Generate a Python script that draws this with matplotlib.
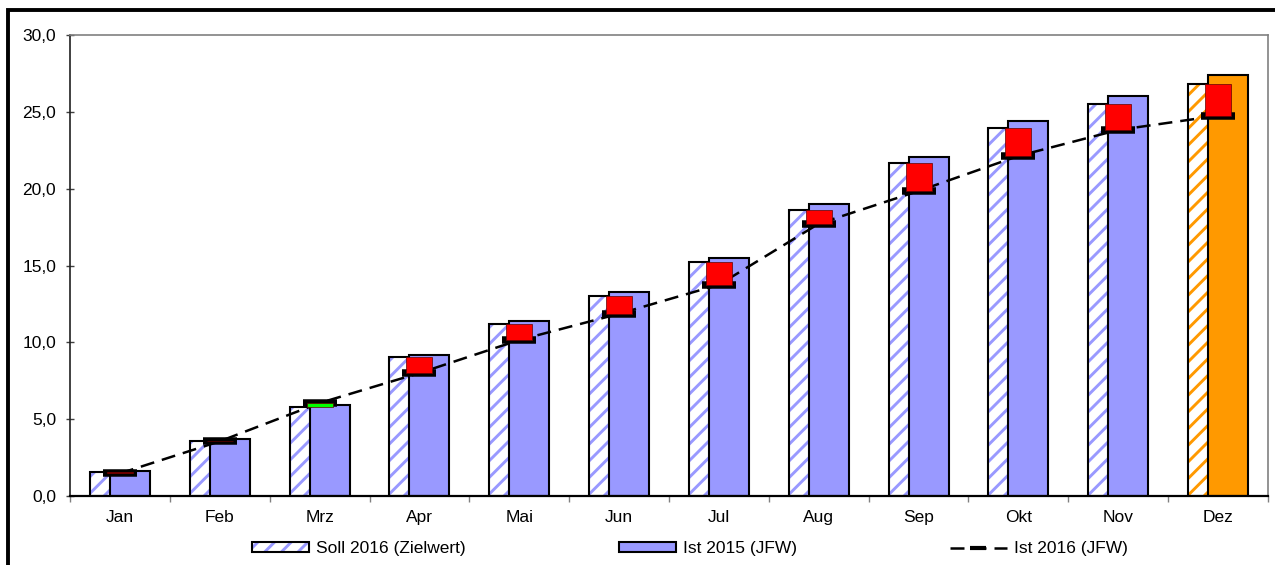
import matplotlib
matplotlib.use("Agg")
import matplotlib.pyplot as plt
from matplotlib.patches import Patch, Rectangle
from matplotlib.lines import Line2D
from matplotlib.ticker import FuncFormatter, FixedLocator
import numpy as np

months = ['Jan', 'Feb', 'Mrz', 'Apr', 'Mai', 'Jun', 'Jul', 'Aug', 'Sep', 'Okt', 'Nov', 'Dez']
soll_2016 = [1.55, 3.58, 5.78, 9.05, 11.19, 13.04, 15.25, 18.61, 21.65, 23.93, 25.51, 26.81]
ist_2015 = [1.60, 3.68, 5.92, 9.18, 11.41, 13.30, 15.51, 19.00, 22.08, 24.40, 26.03, 27.40]
ist_2016 = [1.47, 3.56, 6.05, 8.00, 10.15, 11.86, 13.75, 17.72, 19.85, 22.13, 23.82, 24.75]
legend_labels = ['Soll 2016 (Zielwert)', 'Ist 2015 (JFW)', 'Ist 2016 (JFW)']

plt.rcParams['font.family'] = ['Liberation Sans', 'DejaVu Sans']
plt.rcParams['hatch.linewidth'] = 2.1

BLUE = '#9999FF'
ORANGE = '#FF9900'

fig = plt.figure(figsize=(12.75, 5.65), dpi=100)
ax = fig.add_axes([70 / 1275, 1 - 496 / 565, 1198 / 1275, 461 / 565])

x = np.arange(len(months))
hatch_cols = [BLUE] * (len(months) - 1) + [ORANGE]
fill_cols = [BLUE] * (len(months) - 1) + [ORANGE]

# Soll 2016 hatched bars
for xi, v, c in zip(x, soll_2016, hatch_cols):
    ax.bar(xi - 0.1, v, width=0.4, facecolor='white', edgecolor=c, hatch='//',
           linewidth=0, zorder=2)
    ax.bar(xi - 0.1, v, width=0.4, fill=False, edgecolor='black', linewidth=1.5, zorder=2.1)

# Ist 2015 bars
ax.bar(x + 0.1, ist_2015, width=0.4, color=fill_cols, edgecolor='black',
       linewidth=1.5, zorder=2.5)

# Ist 2016 dashed line
dash = (0, (5.6, 3.2))
ax.plot(x, ist_2016, color='black', lw=1.8, ls=dash, zorder=3)
ax.plot(x, ist_2016, ls='none', marker='_', color='black', markersize=24.5,
        markeredgewidth=5.4, zorder=4)

# up/down bars between Soll 2016 and Ist 2016
for xi, s, i in zip(x, soll_2016, ist_2016):
    lo, hi = min(s, i), max(s, i)
    col = '#00FF00' if i >= s else '#FF0000'
    ax.bar(xi, hi - lo, bottom=lo, width=0.26, color=col, edgecolor='#600000',
           linewidth=0.5, zorder=5)

ax.set_xlim(-0.5, len(months) - 0.5)
ax.set_ylim(0, 30)
ax.set_yticks(np.arange(0, 31, 5))
ax.yaxis.set_major_formatter(FuncFormatter(lambda v, p: f'{v:.1f}'.replace('.', ',')))
ax.tick_params(axis='y', direction='inout', length=6, width=1, color='#404040',
               labelsize=12.5, pad=7)

ax.set_xticks(x)
ax.set_xticklabels(months)
ax.tick_params(axis='x', which='major', length=0, labelsize=12.5, pad=10)
ax.xaxis.set_minor_locator(FixedLocator(np.arange(-0.5, len(months) - 0.4, 1)))
ax.tick_params(axis='x', which='minor', direction='out', length=4, width=1, color='#808080')

for s in ['top', 'right']:
    ax.spines[s].set_color('#808080')
    ax.spines[s].set_linewidth(1.2)
ax.spines['left'].set_color('#202020')
ax.spines['left'].set_linewidth(1.2)
ax.spines['bottom'].set_color('black')
ax.spines['bottom'].set_linewidth(1.6)

h0 = (Patch(facecolor='white', edgecolor=BLUE, hatch='//', linewidth=0),
      Patch(fill=False, edgecolor='black', linewidth=1.5))
h1 = Patch(facecolor=BLUE, edgecolor='black', linewidth=1.5)
h2 = Line2D([], [], color='black', lw=1.8, ls=dash, marker='_', markersize=12,
            markeredgewidth=3)
leg = fig.legend([h0, h1, h2], legend_labels, loc='center',
                 bbox_to_anchor=(690 / 1275, 1 - 549 / 565), ncol=3, frameon=False,
                 fontsize=12.5, handlelength=3.3, handleheight=0.5, handletextpad=0.4,
                 columnspacing=8.8, numpoints=1)

# outer frame
fig.patches.append(Rectangle((7.5 / 1275, -0.2), 1.2, 1 - 9.5 / 565 + 0.2,
                             transform=fig.transFigure, fill=False, lw=2.8,
                             edgecolor='black'))

fig.savefig('out.png', dpi=100)
